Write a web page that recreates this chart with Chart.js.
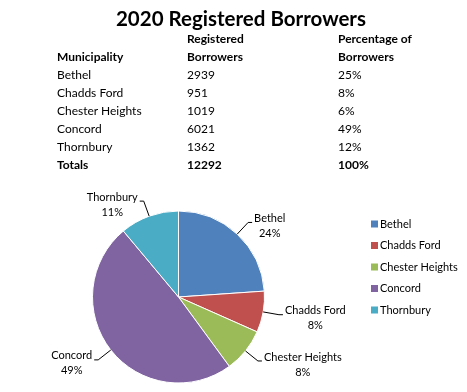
<!DOCTYPE html>
<html>
<head>
<meta charset="utf-8">
<script src="https://cdn.jsdelivr.net/npm/chart.js@4/dist/chart.umd.min.js"></script>
<style>
  html, body { margin: 0; padding: 0; background: #fff; }
  #wrap { position: relative; width: 467px; height: 392px; overflow: hidden; }
  #c { position: absolute; left: 0; top: 0; }
  .t { position: absolute; font-family: Lato, "Open Sans", sans-serif; font-size: 12px; color: #000; line-height: 18px; white-space: nowrap; }
  .b { font-weight: bold; }
  #title { position: absolute; left: 0; width: 482px; top: 5px; text-align: center; font-family: Lato, sans-serif; font-weight: bold; font-size: 20.5px; line-height: 26px; color: #000; }
</style>
</head>
<body>
<div id="wrap">
  <canvas id="c" width="467" height="392"></canvas>
  <div id="title">2020 Registered Borrowers</div>
</div>
<script>
const categories = ['Bethel', 'Chadds Ford', 'Chester Heights', 'Concord', 'Thornbury'];
const borrowers = [2939, 951, 1019, 6021, 1362];
const tablePercents = ['25%', '8%', '6%', '49%', '12%'];
const totalLabel = 'Totals';
const totalBorrowers = 12292;
const totalPercent = '100%';
const headers = [['', 'Registered', 'Percentage of'], ['Municipality', 'Borrowers', 'Borrowers']];
const colors = ['#4F81BD', '#C0504D', '#9BBB59', '#8064A2', '#4BACC6'];

// table (HTML text)
const wrap = document.getElementById('wrap');
const colX = [57, 187, 338];
function cell(text, x, yc, bold) {
  const d = document.createElement('div');
  d.className = 't' + (bold ? ' b' : '');
  d.style.left = x + 'px';
  d.style.top = (yc - 9) + 'px';
  d.textContent = text;
  wrap.appendChild(d);
}
const rows = [];
rows.push({ cells: headers[0], bold: [true, true, true] });
rows.push({ cells: headers[1], bold: [true, true, true] });
categories.forEach((c, i) => rows.push({ cells: [c, String(borrowers[i]), tablePercents[i]], bold: [false, false, false] }));
rows.push({ cells: [totalLabel, String(totalBorrowers), totalPercent], bold: [true, true, true] });
rows.forEach((r, ri) => {
  r.cells.forEach((t, ci) => { if (t) cell(t, colX[ci], 39 + ri * 18, r.bold[ci]); });
});

const labelPlugin = {
  id: 'pieLabels',
  afterDatasetsDraw(chart) {
    const ctx = chart.ctx;
    const meta = chart.getDatasetMeta(0);
    const data = chart.data.datasets[0].data;
    const total = data.reduce((a, b) => a + b, 0);
    ctx.save();
    ctx.font = '11px Lato, "Open Sans", sans-serif';
    ctx.textBaseline = 'middle';
    meta.data.forEach((arc, i) => {
      const p = arc.getProps(['x', 'y', 'startAngle', 'endAngle', 'outerRadius'], true);
      const mid = (p.startAngle + p.endAngle) / 2;
      const cx = Math.cos(mid), sy = Math.sin(mid);
      const px = p.x + cx * p.outerRadius, py = p.y + sy * p.outerRadius;
      const ax = p.x + cx * (p.outerRadius + 16), ay = p.y + sy * (p.outerRadius + 16);
      const right = cx >= 0;
      const hx = ax + (right ? 4 : -4);
      ctx.strokeStyle = '#000';
      ctx.lineWidth = 1;
      ctx.beginPath();
      ctx.moveTo(px, py);
      ctx.lineTo(ax, ay);
      ctx.lineTo(hx, ay);
      ctx.stroke();
      const name = chart.data.labels[i];
      const pct = Math.round(data[i] / total * 100) + '%';
      const w = ctx.measureText(name).width;
      const left = right ? hx + 2 : hx - 2 - w;
      ctx.fillStyle = '#000';
      ctx.textAlign = 'left';
      ctx.fillText(name, left, ay - 4);
      ctx.textAlign = 'center';
      ctx.fillText(pct, left + w / 2, ay + 11);
    });
    // legend
    ctx.textAlign = 'left';
    chart.data.labels.forEach((lab, i) => {
      const y = 224 + i * 21.5;
      ctx.fillStyle = chart.data.datasets[0].backgroundColor[i];
      ctx.fillRect(371, y - 3.5, 7, 7);
      ctx.fillStyle = '#000';
      ctx.fillText(lab, 380, y);
    });
    ctx.restore();
  }
};

new Chart(document.getElementById('c'), {
  type: 'pie',
  data: {
    labels: categories,
    datasets: [{
      data: borrowers,
      backgroundColor: colors,
      borderColor: '#ffffff',
      borderWidth: 1
    }]
  },
  options: {
    responsive: false,
    animation: false,
    layout: { padding: { left: 92, right: 202, top: 210.5, bottom: 8.5 } },
    plugins: {
      legend: { display: false },
      title: { display: false },
      tooltip: { enabled: false }
    }
  },
  plugins: [labelPlugin]
});
</script>
</body>
</html>
